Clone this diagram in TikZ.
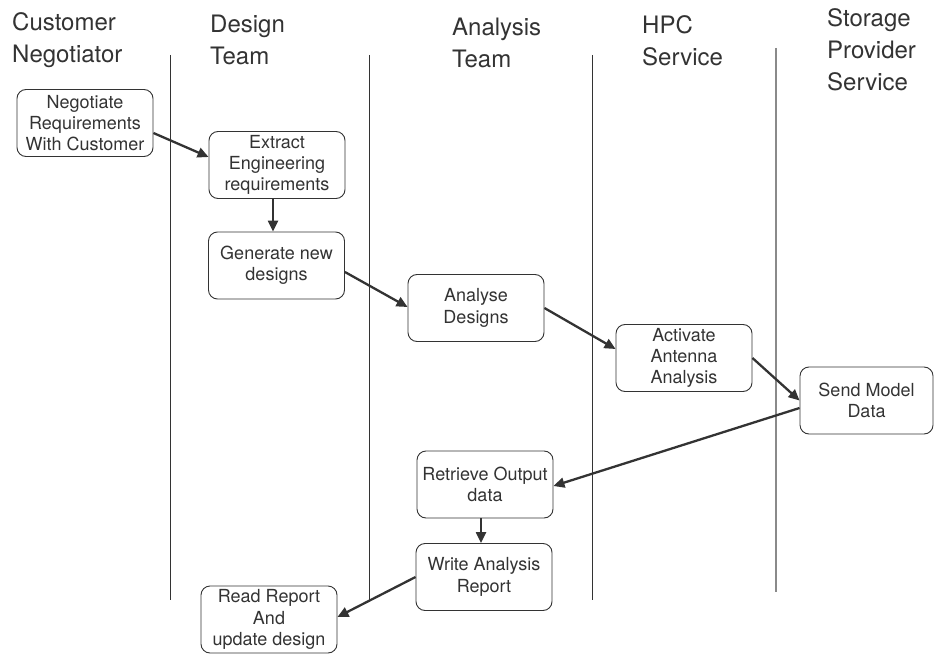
\documentclass[tikz,border=0pt]{standalone}
\usepackage{fontspec}
\setmainfont{TeX Gyre Heros}
\usetikzlibrary{arrows.meta}
\definecolor{ink}{HTML}{333333}
\definecolor{lanegray}{HTML}{8A8A8A}

\begin{document}
\begin{tikzpicture}[x=1pt,y=-1pt,
  task/.style={draw=ink, line width=0.9pt, rounded corners=9pt,
    minimum width=136pt, minimum height=67pt, inner sep=0pt,
    align=center, text=ink, font=\fontsize{18}{21.3}\selectfont},
  head/.style={anchor=north west, align=left, inner sep=0pt,
    text=ink, font=\fontsize{24}{32}\selectfont},
  flow/.style={draw=ink, line width=2.3pt, -{Triangle[length=11pt,width=10pt]}},
  lane/.style={draw=ink, line width=0.8pt}]

\useasboundingbox (0,0) rectangle (934,655);

% swimlane headers
\node[head] (hcust) at (12,12)  {Customer\\Negotiator};
\node[head] (hdes)  at (210,14.5) {Design\\Team};
\node[head] (hana)  at (452,18) {Analysis\\Team};
\node[head] (hhpc)  at (642,15) {HPC\\Service};
\node[head] (hsto)  at (827,8.5) {Storage\\Provider\\Service};

% lane separators
\coordinate (l1t) at (170,55);  \coordinate (l1b) at (170,600);
\coordinate (l2t) at (369,55);  \coordinate (l2b) at (369,600);
\coordinate (l3t) at (592,55);  \coordinate (l3b) at (592,600);
\coordinate (l4t) at (776,48);  \coordinate (l4b) at (776,592);
\draw[lane] (l1t) -- (l1b);
\draw[lane] (l2t) -- (l2b);
\draw[lane] (l3t) -- (l3b);
\draw[lane, draw=lanegray, line width=1.2pt] (l4t) -- (l4b);

% activities
\node[task] (neg)  at (85,123)    {Negotiate\\Requirements\\With Customer};
\node[task] (ext)  at (277,165)   {Extract\\Engineering\\requirements};
\node[task] (gen)  at (276.5,265.5) {Generate new\\designs};
\node[task] (ana)  at (476,308)   {Analyse\\Designs};
\node[task] (act)  at (684,358)   {Activate\\Antenna\\Analysis};
\node[task, minimum width=133pt] (send) at (866.5,400.5) {Send Model\\Data};
\node[task] (ret)  at (485,484.5) {Retrieve Output\\data};
\node[task] (wri)  at (484,577)   {Write Analysis\\Report};
\node[task] (read) at (269,619.5) {Read Report\\And\\update design};

% control flow
\draw[flow] ([yshift=-10pt]neg.east) -- ([yshift=8pt]ext.west);
\draw[flow] ([xshift=-4pt]ext.south) -- ([xshift=-3.5pt]gen.north);
\draw[flow] ([yshift=-6.5pt]gen.east) -- ([yshift=1pt]ana.west);
\draw[flow] (ana.east) -- ([yshift=9pt]act.west);
\draw[flow] (act.east) -- (send.west);
\draw[flow] ([yshift=-7.5pt]send.west) -- ([yshift=-1.5pt]ret.east);
\draw[flow] ([xshift=-4pt]ret.south) -- ([xshift=-3pt]wri.north);
\draw[flow] (wri.west) -- ([yshift=2.5pt]read.east);
\end{tikzpicture}
\end{document}
